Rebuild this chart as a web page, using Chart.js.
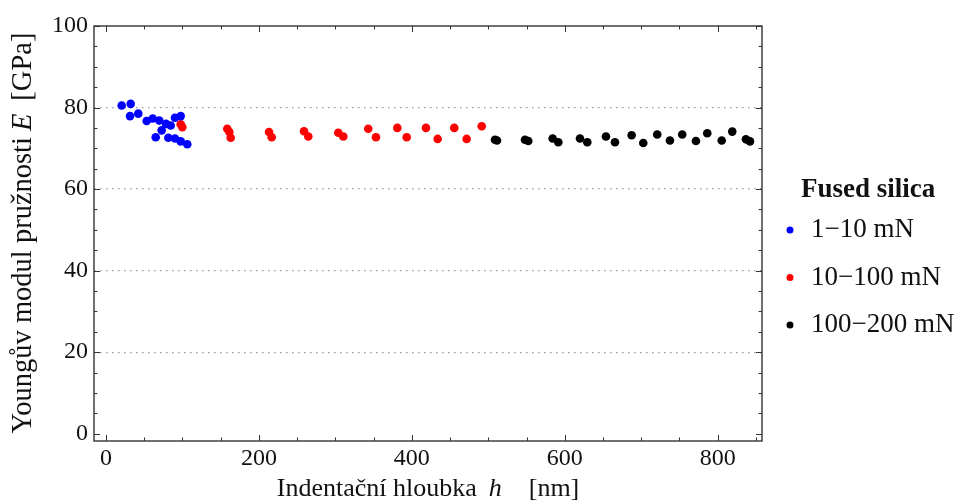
<!DOCTYPE html>
<html>
<head>
<meta charset="utf-8">
<script src="https://cdn.jsdelivr.net/npm/chart.js@4"></script>
<style>
  html, body { margin: 0; padding: 0; background: #fff; }
  #wrap { width: 960px; height: 503px; position: relative; }
</style>
</head>
<body>
<div id="wrap"><canvas id="chart"></canvas></div>
<script>
// --- data ---
const seriesLabels = ["1−10 mN", "10−100 mN", "100−200 mN"];
const seriesColors = ["#0000ff", "#ff0000", "#000000"];
const legendTitle = "Fused silica";

// 1-10 mN
const blueH = [20.5, 32.3, 31.4, 42.2, 53.2, 61.1, 69.7, 78.5, 84.6, 90.2, 97.7, 72.8, 65.0, 81.5, 90.2, 97.7, 106.3];
const blueE = [80.5, 80.9, 77.9, 78.5, 76.7, 77.3, 76.8, 76.0, 75.6, 77.5, 77.9, 74.4, 72.7, 72.6, 72.4, 71.7, 71.0];

// 10-100 mN
const redH = [97.7, 99.8, 158.6, 161.3, 163.1, 213.2, 216.7, 259.0, 264.6, 303.8, 310.4, 343.0, 353.1, 381.0, 393.3, 418.5, 433.8, 455.5, 471.7, 491.4];
const redE = [75.9, 75.2, 74.8, 74.0, 72.6, 74.0, 72.7, 74.2, 72.9, 73.8, 72.9, 74.8, 72.7, 75.0, 72.7, 75.0, 72.3, 75.0, 72.3, 75.4];

// 100-200 mN
const blackH = [508.8, 511.4, 548.0, 552.3, 584.2, 591.6, 619.9, 629.5, 653.9, 665.7, 687.5, 702.7, 721.0, 737.6, 753.7, 771.6, 786.4, 805.3, 819.1, 837.0, 842.3];
const blackE = [72.1, 71.9, 72.1, 71.8, 72.4, 71.5, 72.4, 71.5, 72.9, 71.5, 73.2, 71.3, 73.4, 71.9, 73.4, 71.8, 73.7, 71.9, 74.1, 72.2, 71.7];

const xTicks = [0, 200, 400, 600, 800];
const yTicks = [0, 20, 40, 60, 80, 100];
const xMinorStep = 50;
const yMinorStep = 5;

const serif = '"Liberation Serif", "Times New Roman", serif';

function toPoints(hs, es) {
  return hs.map((h, i) => ({ x: h, y: es[i] }));
}

// rámeček s tiky dovnitř (jako Mathematica Frame)
const framePlugin = {
  id: "frame",
  afterDraw(chart) {
    const { ctx, chartArea: a, scales: { x, y } } = chart;
    ctx.save();
    ctx.strokeStyle = "#333";
    ctx.lineWidth = 1;
    const seg = (x1, y1, x2, y2) => {
      ctx.beginPath(); ctx.moveTo(x1, y1); ctx.lineTo(x2, y2); ctx.stroke();
    };
    for (let v = 0; v <= x.max; v += xMinorStep) {
      const px = Math.round(x.getPixelForValue(v)) + 0.5;
      const len = xTicks.includes(v) ? 6 : 3.5;
      seg(px, a.bottom, px, a.bottom - len);
      seg(px, a.top, px, a.top + len);
    }
    for (let v = 0; v <= y.max; v += yMinorStep) {
      const py = Math.round(y.getPixelForValue(v)) + 0.5;
      const len = yTicks.includes(v) ? 6 : 3.5;
      seg(a.left, py, a.left + len, py);
      seg(a.right, py, a.right - len, py);
    }
    ctx.lineWidth = 1.4;
    ctx.strokeRect(a.left, a.top, a.right - a.left, a.bottom - a.top);
    ctx.restore();
  }
};

// popisky os s kurzívou (E, h)
function drawPieces(ctx, pieces, size) {
  let total = 0;
  pieces.forEach(p => {
    ctx.font = (p.italic ? "italic " : "") + size + "px " + serif;
    p.w = ctx.measureText(p.t).width;
    total += p.w + (p.gap || 0);
  });
  let cx = -total / 2;
  pieces.forEach(p => {
    ctx.font = (p.italic ? "italic " : "") + size + "px " + serif;
    ctx.fillText(p.t, cx, 0);
    cx += p.w + (p.gap || 0);
  });
}

const titlesPlugin = {
  id: "titles",
  afterDraw(chart) {
    const { ctx, chartArea: a } = chart;
    ctx.save();
    ctx.fillStyle = "#111";
    ctx.textAlign = "left";
    ctx.textBaseline = "middle";

    ctx.save();
    ctx.translate((a.left + a.right) / 2, 489);
    drawPieces(ctx, [
      { t: "Indentační hloubka", gap: 12 },
      { t: "h", italic: true, gap: 27 },
      { t: "[nm]" }
    ], 26);
    ctx.restore();

    ctx.save();
    ctx.translate(24, 233);
    ctx.rotate(-Math.PI / 2);
    drawPieces(ctx, [
      { t: "Youngův modul pružnosti", gap: 6 },
      { t: "E", italic: true, gap: 13 },
      { t: "[GPa]" }
    ], 28.5);
    ctx.restore();

    // legenda
    ctx.font = "bold 27px " + serif;
    ctx.fillText(legendTitle, 801, 190);
    chart.data.datasets.forEach((ds, i) => {
      const cy = 230 + i * 47.5;
      ctx.fillStyle = ds.backgroundColor;
      ctx.beginPath();
      ctx.arc(790, cy, 3.5, 0, Math.PI * 2);
      ctx.fill();
      ctx.fillStyle = "#111";
      ctx.font = "27px " + serif;
      ctx.fillText(ds.label, 811, cy);
    });
    ctx.restore();
  }
};

new Chart(document.getElementById("chart"), {
  type: "scatter",
  data: {
    datasets: [
      { label: seriesLabels[0], data: toPoints(blueH, blueE), backgroundColor: seriesColors[0] },
      { label: seriesLabels[1], data: toPoints(redH, redE), backgroundColor: seriesColors[1] },
      { label: seriesLabels[2], data: toPoints(blackH, blackE), backgroundColor: seriesColors[2] }
    ].map(d => Object.assign(d, { borderWidth: 0, pointRadius: 4.3, pointHoverRadius: 4.3 }))
  },
  options: {
    responsive: true,
    maintainAspectRatio: false,
    animation: false,
    layout: { padding: { top: 26, right: 198, left: 0, bottom: 0 } },
    scales: {
      x: {
        type: "linear",
        min: -15.7,
        max: 858,
        afterBuildTicks: s => { s.ticks = xTicks.map(v => ({ value: v })); },
        afterFit: s => { s.height = 62; },
        grid: { display: false, drawTicks: false },
        border: { display: false },
        ticks: { color: "#111", font: { family: serif, size: 24 }, padding: 3 }
      },
      y: {
        type: "linear",
        min: -1.8,
        max: 100,
        afterBuildTicks: s => { s.ticks = yTicks.map(v => ({ value: v })); },
        afterFit: s => { s.width = 94; },
        grid: {
          drawTicks: false,
          color: c => (c.tick && (c.tick.value === 0 || c.tick.value === 100)) ? "rgba(0,0,0,0)" : "#9a9a9a",
          lineWidth: 1.2
        },
        border: { display: false, dash: [1.5, 4.5] },
        ticks: { color: "#111", font: { family: serif, size: 24 }, padding: 6 }
      }
    },
    plugins: {
      legend: { display: false },
      tooltip: { enabled: false }
    }
  },
  plugins: [framePlugin, titlesPlugin]
});
</script>
</body>
</html>
